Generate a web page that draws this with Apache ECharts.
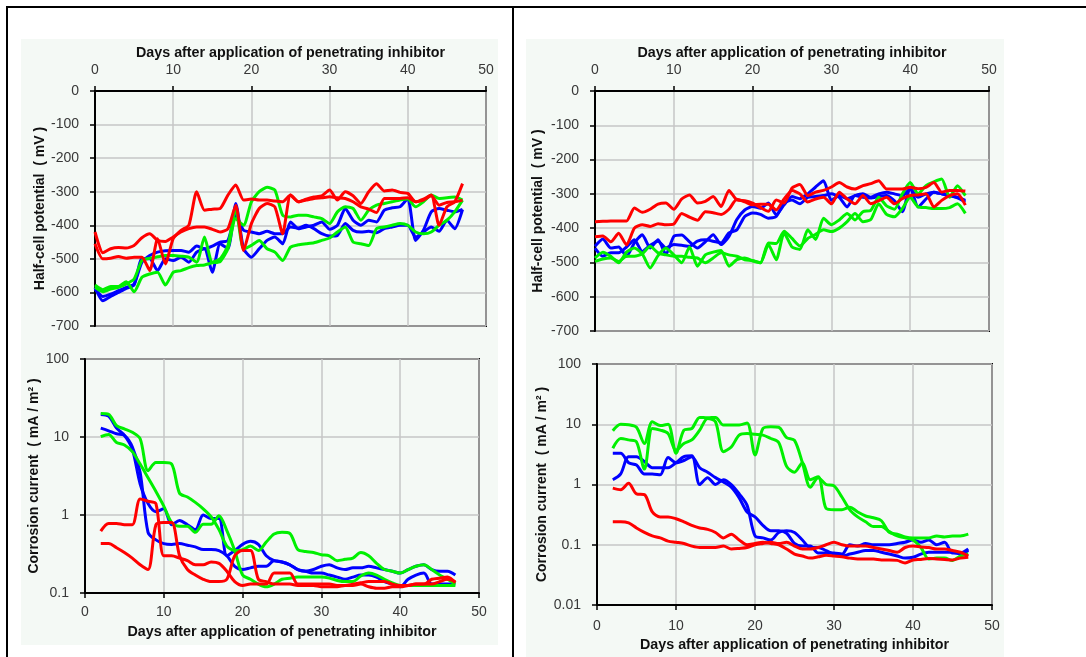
<!DOCTYPE html>
<html>
<head>
<meta charset="utf-8">
<script src="https://cdn.jsdelivr.net/npm/echarts@6/dist/echarts.min.js"></script>
<style>
  html, body { margin: 0; padding: 0; background: #ffffff; }
  #chart { width: 1086px; height: 657px; }
</style>
</head>
<body>
<div id="chart"></div>
<script>
// Days of measurement
const daysTop = [0,1,2,3,4,5,6,7,8,9,10,11,12,13,14,15,16,17,18,19,20,21,22,23,24,25,26,27,28,29,30,31,32,33,34,35,36,37,38,39,40,41,42,43,44,45,46,47];
const daysBottom = [2,3,4,5,6,7,8,9,10,11,12,13,14,15,16,17,18,19,20,21,22,23,24,25,26,27,28,29,30,31,32,33,34,35,36,37,38,39,40,41,42,43,44,45,46,47];

// Left column: half-cell potential (mV)
const lPotRedA = [-455,-500,-498,-493,-498,-495,-495,-535,-440,-515,-440,-415,-400,-300,-355,-352,-350,-310,-280,-325,-322,-325,-325,-328,-330,-310,-330,-322,-316,-312,-295,-325,-300,-312,-335,-300,-276,-298,-295,-302,-305,-330,-322,-310,-400,-345,-330,-276];
const lPotRedB = [-420,-482,-470,-466,-468,-460,-437,-425,-445,-448,-435,-420,-410,-405,-405,-412,-420,-410,-340,-475,-395,-350,-335,-345,-425,-310,-330,-325,-320,-318,-315,-318,-320,-330,-345,-352,-362,-320,-320,-320,-318,-330,-325,-312,-340,-332,-330,-325];
const lPotBlueA = [-585,-625,-612,-600,-588,-578,-500,-500,-535,-500,-505,-495,-510,-480,-470,-540,-455,-470,-335,-470,-495,-470,-445,-435,-455,-390,-410,-405,-400,-390,-412,-400,-350,-385,-400,-385,-390,-355,-348,-345,-320,-445,-415,-360,-350,-355,-360,-353];
const lPotBlueB = [-590,-612,-605,-595,-585,-575,-510,-490,-480,-476,-475,-475,-480,-462,-470,-462,-450,-445,-370,-415,-420,-425,-418,-425,-425,-405,-408,-400,-410,-425,-432,-430,-395,-415,-420,-418,-422,-410,-405,-400,-400,-435,-420,-405,-418,-385,-410,-353];
const lPotGreenA = [-578,-592,-582,-582,-568,-598,-555,-545,-540,-578,-540,-535,-526,-520,-518,-512,-508,-470,-380,-400,-330,-300,-287,-295,-370,-375,-370,-370,-375,-380,-395,-360,-345,-350,-385,-355,-340,-335,-330,-325,-322,-345,-330,-310,-320,-318,-316,-325];
const lPotGreenB = [-585,-598,-590,-585,-575,-560,-505,-498,-494,-490,-490,-492,-495,-510,-435,-510,-500,-460,-350,-470,-460,-445,-470,-480,-505,-465,-458,-455,-452,-445,-438,-420,-405,-450,-455,-460,-410,-405,-400,-395,-400,-420,-425,-420,-400,-385,-360,-325];

// Left column: corrosion current (mA/m2)
const lCurRedA = [0.62,0.78,0.78,0.75,0.75,1.6,1.5,1.4,0.3,0.3,0.28,0.26,0.23,0.23,0.25,0.24,0.19,0.14,0.125,0.13,0.13,0.13,0.18,0.18,0.18,0.13,0.13,0.13,0.13,0.13,0.125,0.125,0.13,0.135,0.14,0.14,0.14,0.13,0.125,0.125,0.13,0.13,0.15,0.155,0.16,0.135];
const lCurRedB = [0.43,0.43,0.38,0.33,0.28,0.23,0.2,0.75,0.8,0.8,0.3,0.2,0.17,0.15,0.14,0.14,0.15,0.3,0.35,0.35,0.15,0.14,0.13,0.13,0.13,0.125,0.125,0.125,0.12,0.12,0.12,0.125,0.125,0.13,0.12,0.115,0.115,0.12,0.12,0.125,0.13,0.13,0.13,0.14,0.15,0.14];
const lCurBlueA = [19.5,18.5,13,10.5,7,2.5,1.4,1.1,1.2,0.75,0.85,0.75,0.65,1.0,0.9,0.9,0.3,0.35,0.42,0.46,0.42,0.3,0.26,0.25,0.23,0.2,0.19,0.2,0.22,0.23,0.21,0.2,0.21,0.21,0.22,0.21,0.2,0.19,0.18,0.2,0.22,0.23,0.2,0.19,0.19,0.17];
const lCurBlueB = [13,12,11,10.5,7.5,3.5,0.6,0.48,0.43,0.42,0.43,0.41,0.39,0.36,0.36,0.35,0.3,0.22,0.2,0.21,0.22,0.22,0.26,0.25,0.23,0.2,0.19,0.18,0.18,0.17,0.16,0.15,0.16,0.17,0.17,0.16,0.14,0.13,0.12,0.15,0.17,0.18,0.13,0.13,0.13,0.13];
const lCurGreenA = [20,19.5,14,12.7,11.5,9.5,3.7,4.7,4.7,4.5,1.9,1.7,1.45,1.2,0.95,0.65,0.4,0.35,0.36,0.4,0.35,0.45,0.57,0.6,0.58,0.36,0.34,0.33,0.31,0.3,0.26,0.27,0.28,0.33,0.3,0.24,0.2,0.19,0.18,0.2,0.22,0.23,0.2,0.17,0.15,0.13];
const lCurGreenB = [10.1,10.8,8.5,7.9,6.5,4.5,3.0,2.0,1.3,0.8,0.72,0.72,0.6,0.76,0.76,0.98,0.63,0.35,0.17,0.15,0.13,0.12,0.13,0.15,0.155,0.16,0.16,0.16,0.16,0.155,0.145,0.14,0.14,0.165,0.18,0.17,0.15,0.135,0.125,0.125,0.125,0.125,0.125,0.125,0.125,0.125];

// Right column: half-cell potential (mV)
const rPotRedA = [-381,-380,-379,-379,-379,-341,-354,-345,-330,-327,-345,-315,-303,-327,-322,-308,-337,-290,-318,-320,-327,-340,-351,-318,-327,-283,-273,-305,-295,-290,-280,-267,-280,-286,-276,-270,-262,-286,-286,-286,-281,-285,-281,-267,-295,-290,-290,-292];
const rPotRedB = [-425,-423,-440,-415,-449,-400,-390,-395,-387,-390,-388,-357,-368,-377,-352,-355,-360,-345,-316,-323,-332,-330,-330,-347,-315,-290,-300,-324,-315,-310,-329,-295,-315,-329,-305,-329,-320,-310,-329,-314,-305,-303,-300,-338,-319,-305,-300,-333];
const rPotBlueA = [-453,-432,-458,-455,-482,-443,-419,-458,-434,-477,-424,-420,-440,-458,-440,-419,-448,-424,-375,-347,-337,-342,-327,-361,-332,-308,-314,-300,-280,-262,-319,-305,-314,-305,-300,-310,-300,-295,-300,-305,-286,-310,-300,-295,-300,-305,-310,-319];
const rPotBlueB = [-458,-482,-472,-472,-455,-434,-468,-450,-438,-458,-448,-450,-453,-438,-434,-438,-443,-414,-405,-366,-356,-360,-371,-366,-327,-318,-329,-310,-308,-305,-300,-310,-338,-305,-310,-312,-308,-305,-320,-352,-281,-338,-315,-295,-300,-305,-312,-324];
const rPotGreenA = [-487,-470,-482,-501,-470,-458,-475,-516,-480,-458,-478,-501,-455,-511,-478,-470,-465,-511,-492,-487,-495,-501,-448,-492,-414,-455,-462,-405,-433,-371,-390,-376,-357,-376,-352,-348,-310,-335,-345,-300,-267,-300,-276,-265,-257,-310,-276,-305];
const rPotGreenB = [-497,-490,-487,-497,-482,-482,-475,-453,-472,-478,-482,-482,-485,-487,-501,-487,-472,-478,-482,-492,-495,-501,-443,-445,-409,-430,-452,-430,-418,-405,-410,-400,-381,-357,-381,-375,-329,-360,-367,-343,-310,-338,-340,-343,-343,-340,-329,-357];

// Right column: corrosion current (mA/m2)
const rCurRedA = [0.87,0.82,1.05,0.7,0.68,0.35,0.29,0.29,0.27,0.24,0.21,0.19,0.18,0.16,0.13,0.15,0.12,0.1,0.105,0.11,0.105,0.1,0.085,0.07,0.065,0.06,0.063,0.067,0.065,0.063,0.06,0.058,0.058,0.058,0.056,0.056,0.055,0.05,0.056,0.057,0.059,0.058,0.057,0.056,0.06,0.062];
const rCurRedB = [0.24,0.24,0.23,0.19,0.16,0.14,0.13,0.115,0.11,0.105,0.095,0.09,0.09,0.09,0.095,0.085,0.087,0.09,0.1,0.105,0.11,0.105,0.11,0.095,0.085,0.085,0.09,0.1,0.11,0.1,0.095,0.095,0.095,0.09,0.085,0.08,0.075,0.09,0.095,0.092,0.09,0.085,0.085,0.08,0.075,0.065];
const rCurBlueA = [3.3,3.3,2.3,2.1,1.5,1.5,1.45,2.8,2.3,2.5,2.9,1.9,1.6,1.3,1.1,0.9,0.6,0.35,0.29,0.21,0.17,0.17,0.155,0.105,0.095,0.095,0.073,0.073,0.073,0.07,0.1,0.095,0.105,0.1,0.1,0.1,0.105,0.11,0.12,0.11,0.12,0.1,0.11,0.073,0.073,0.085];
const rCurBlueB = [1.2,1.5,2.9,2.9,2.4,1.9,1.9,1.9,2.3,2.9,3.0,1.0,1.3,1.0,1.2,1.0,0.7,0.45,0.14,0.13,0.12,0.16,0.17,0.16,0.12,0.09,0.09,0.08,0.07,0.065,0.07,0.075,0.08,0.08,0.075,0.07,0.065,0.06,0.062,0.07,0.075,0.075,0.075,0.075,0.07,0.08];
const rCurGreenA = [7.8,10,9.8,8.9,4.8,11,9.5,10,3.3,8,8.5,13,12.8,13,9.7,9.7,9.7,10.5,3.1,8.5,9.1,8.9,6,5.4,2.3,0.9,1.3,1.0,0.95,0.62,0.38,0.29,0.24,0.2,0.2,0.165,0.14,0.13,0.12,0.09,0.058,0.06,0.06,0.055,0.065,0.07];
const rCurGreenB = [4,5.8,5.5,5.1,1.8,8.5,8,7,3.7,4.8,5.5,8,12.5,11,3.5,4.2,6.6,7,6.8,6.6,5.8,5,2,1.6,2.3,1.2,1.35,0.4,0.38,0.38,0.42,0.35,0.3,0.28,0.25,0.16,0.15,0.135,0.13,0.13,0.13,0.14,0.135,0.14,0.14,0.15];

const axisTitleX = 'Days after application of penetrating inhibitor';
const axisTitlePot = 'Half-cell potential  ( mV )';
const axisTitleCur = 'Corrosion current  ( mA / m\u00B2 )';

const RED = '#ff0000', BLUE = '#0000ff', GREEN = '#00f000';
const FONT = 'Liberation Sans, Arial, sans-serif';
const PANEL_BG = '#f4f9f5';

function pairs(days, vals) { return days.map((d, i) => [d, vals[i]]); }

function line(idx, days, vals, color, smooth) {
  return {
    type: 'line', xAxisIndex: idx, yAxisIndex: idx,
    data: pairs(days, vals), showSymbol: false, symbol: 'none',
    smooth: smooth, lineStyle: { color: color, width: 3 }, itemStyle: { color: color },
    animation: false, silent: true
  };
}

function xAxis(idx, pos, nameGap, margin) {
  return {
    gridIndex: idx, type: 'value', position: pos, min: 0, max: 50, interval: 10,
    name: axisTitleX, nameLocation: 'middle', nameGap: nameGap,
    nameTextStyle: { fontFamily: FONT, fontSize: 14.3, fontWeight: 'bold', color: '#111' },
    axisLine: { show: true, onZero: false, lineStyle: { color: '#000', width: 2 } },
    axisTick: { show: true, length: 5, lineStyle: { color: '#000', width: 1.5 } },
    axisLabel: { fontFamily: FONT, fontSize: 14, color: '#383838', margin: margin },
    splitLine: { show: true, lineStyle: { color: '#c6c6c6', width: 1.5 } }
  };
}

function potAxis(idx, nameGap) {
  return {
    gridIndex: idx, type: 'value', min: -700, max: 0, interval: 100,
    name: axisTitlePot, nameLocation: 'middle', nameGap: nameGap, nameRotate: 90,
    nameTextStyle: { fontFamily: FONT, fontSize: 14, fontWeight: 'bold', color: '#111' },
    axisLine: { show: true, onZero: false, lineStyle: { color: '#000', width: 2 } },
    axisTick: { show: true, length: 5, lineStyle: { color: '#000', width: 1.5 } },
    axisLabel: { fontFamily: FONT, fontSize: 14, color: '#383838', margin: 16 },
    splitLine: { show: true, lineStyle: { color: '#c6c6c6', width: 1.5 } }
  };
}

function curAxis(idx, min, nameGap) {
  return {
    gridIndex: idx, type: 'log', logBase: 10, min: min, max: 100,
    name: axisTitleCur, nameLocation: 'middle', nameGap: nameGap, nameRotate: 90,
    nameTextStyle: { fontFamily: FONT, fontSize: 14, fontWeight: 'bold', color: '#111' },
    axisLine: { show: true, onZero: false, lineStyle: { color: '#000', width: 2 } },
    axisTick: { show: true, length: 5, lineStyle: { color: '#000', width: 1.5 } },
    axisLabel: { fontFamily: FONT, fontSize: 14, color: '#383838', margin: 16,
      formatter: v => String(+Number(v).toPrecision(3)) },
    splitLine: { show: true, lineStyle: { color: '#c6c6c6', width: 1.5 } },
    minorTick: { show: false }, minorSplitLine: { show: false }
  };
}

const gridStyle = { show: true, borderColor: '#000', borderWidth: 2, backgroundColor: 'transparent', containLabel: false };

const option = {
  backgroundColor: '#ffffff',
  animation: false,
  graphic: [
    { type: 'rect', z: -10, shape: { x: 21, y: 39, width: 477, height: 606 }, style: { fill: PANEL_BG }, silent: true },
    { type: 'rect', z: -10, shape: { x: 526, y: 39, width: 478, height: 618 }, style: { fill: PANEL_BG }, silent: true },
    { type: 'line', shape: { x1: 6, y1: 7, x2: 1086, y2: 7 }, style: { stroke: '#000', lineWidth: 2 }, silent: true },
    { type: 'line', shape: { x1: 7, y1: 7, x2: 7, y2: 657 }, style: { stroke: '#000', lineWidth: 2 }, silent: true },
    { type: 'line', shape: { x1: 513, y1: 7, x2: 513, y2: 657 }, style: { stroke: '#000', lineWidth: 2 }, silent: true }
  ],
  grid: [
    Object.assign({ left: 95, top: 91, width: 391, height: 235 }, gridStyle),
    Object.assign({ left: 85, top: 359, width: 394, height: 234 }, gridStyle),
    Object.assign({ left: 595, top: 91, width: 394, height: 240 }, gridStyle),
    Object.assign({ left: 597, top: 364, width: 395, height: 241 }, gridStyle)
  ],
  xAxis: [
    xAxis(0, 'top', 31, 14),
    xAxis(1, 'bottom', 32, 12),
    xAxis(2, 'top', 31, 14),
    xAxis(3, 'bottom', 33, 14)
  ],
  yAxis: [
    potAxis(0, 48),
    curAxis(1, 0.1, 44),
    potAxis(2, 50),
    curAxis(3, 0.01, 48)
  ],
  series: [
    line(0, daysTop, lPotBlueA, BLUE, 0.2), line(0, daysTop, lPotBlueB, BLUE, 0.2),
    line(0, daysTop, lPotGreenA, GREEN, 0.2), line(0, daysTop, lPotGreenB, GREEN, 0.2),
    line(0, daysTop, lPotRedA, RED, 0.2), line(0, daysTop, lPotRedB, RED, 0.2),

    line(1, daysBottom, lCurBlueA, BLUE, 0.3), line(1, daysBottom, lCurBlueB, BLUE, 0.3),
    line(1, daysBottom, lCurGreenA, GREEN, 0.3), line(1, daysBottom, lCurGreenB, GREEN, 0.3),
    line(1, daysBottom, lCurRedA, RED, 0.3), line(1, daysBottom, lCurRedB, RED, 0.3),

    line(2, daysTop, rPotBlueA, BLUE, 0.2), line(2, daysTop, rPotBlueB, BLUE, 0.2),
    line(2, daysTop, rPotGreenA, GREEN, 0.2), line(2, daysTop, rPotGreenB, GREEN, 0.2),
    line(2, daysTop, rPotRedA, RED, 0.2), line(2, daysTop, rPotRedB, RED, 0.2),

    line(3, daysBottom, rCurBlueA, BLUE, 0.3), line(3, daysBottom, rCurBlueB, BLUE, 0.3),
    line(3, daysBottom, rCurGreenA, GREEN, 0.3), line(3, daysBottom, rCurGreenB, GREEN, 0.3),
    line(3, daysBottom, rCurRedA, RED, 0.3), line(3, daysBottom, rCurRedB, RED, 0.3)
  ]
};

const chart = echarts.init(document.getElementById('chart'), null, { renderer: 'canvas' });
chart.setOption(option);
</script>
</body>
</html>
